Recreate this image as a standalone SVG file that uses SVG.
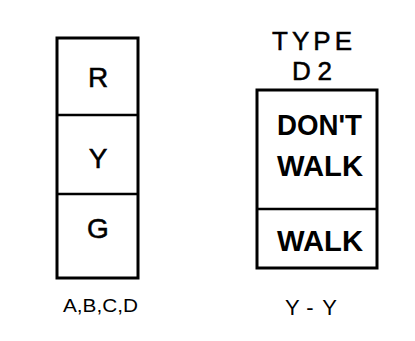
<svg xmlns="http://www.w3.org/2000/svg" width="415" height="341" viewBox="0 0 415 341">
<style>
.box{fill:#fff;stroke:#000;stroke-width:3}
.div{stroke:#000;stroke-width:2.5;fill:none}
.t{font-family:"Liberation Sans",Arial,sans-serif;fill:#000;text-anchor:middle}
.big{font-size:28px;stroke:#000;stroke-width:0.5}
.ped{font-size:29px;font-weight:bold}
.hd{font-size:26px;stroke:#000;stroke-width:0.5}
.lab{font-size:19px}
.lab2{font-size:22px}
</style>
<rect width="415" height="341" fill="#fff"/>
<g id="signal-abcd">
<rect class="box" x="57" y="38" width="81" height="240"/>
<line class="div" x1="57" y1="115" x2="138" y2="115"/>
<line class="div" x1="57" y1="194" x2="139" y2="194"/>
<text class="t big" x="98" y="87">R</text>
<text class="t big" x="98" y="168">Y</text>
<text class="t big" x="98" y="238">G</text>
<text class="t lab" x="100.5" y="312" textLength="75" lengthAdjust="spacingAndGlyphs">A,B,C,D</text>
</g>
<g id="signal-d2">
<text class="t hd" x="312" y="50" textLength="80" lengthAdjust="spacing">TYPE</text>
<text class="t hd" x="312" y="80" textLength="40" lengthAdjust="spacing">D2</text>
<rect class="box" x="257" y="90" width="120" height="178"/>
<line class="div" x1="257" y1="209" x2="377" y2="209"/>
<text class="t ped" x="319.5" y="135" textLength="85" lengthAdjust="spacingAndGlyphs">DON'T</text>
<text class="t ped" x="320" y="176" textLength="86" lengthAdjust="spacingAndGlyphs">WALK</text>
<text class="t ped" x="320" y="251" textLength="86" lengthAdjust="spacingAndGlyphs">WALK</text>
<text class="t lab2" x="311" y="315" textLength="52" lengthAdjust="spacing">Y-Y</text>
</g>
</svg>
